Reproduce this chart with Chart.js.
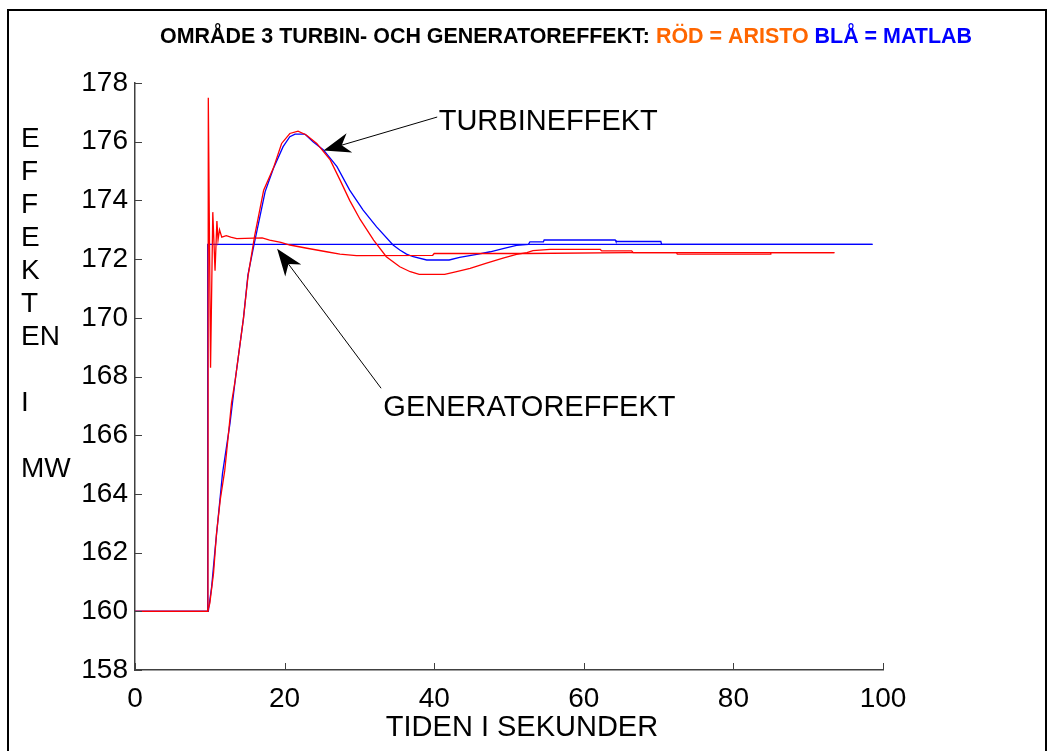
<!DOCTYPE html>
<html>
<head>
<meta charset="utf-8">
<title>Område 3 turbin- och generatoreffekt</title>
<script src="https://cdn.jsdelivr.net/npm/chart.js@4.4.1/dist/chart.umd.min.js"></script>
<style>
  html, body { margin: 0; padding: 0; background: #fff; }
  canvas { display: block; }
</style>
</head>
<body>
<canvas id="chart" width="1050" height="751"></canvas>
<script>
// time (s) and power (MW)
const aristoTurbineT = [0, 9.7, 10, 10.5, 10.9, 11.4, 12, 12.5, 12.9, 13.4, 14.5, 15.1, 16, 17.2, 18.5, 19.6, 20.7, 21.8, 22.9, 24.3, 26.1, 27.4, 28.7, 30.1, 31.9, 33.6, 35.4, 36.8, 38, 41.4, 43, 44.8, 47, 49.2, 51, 52.4, 53.2, 55.5, 62.2, 62.4, 66.4, 66.6, 72.4, 72.5, 84.9, 85, 93.5];
const aristoTurbineMW = [160, 160, 160.27, 161.3, 162.66, 163.8, 164.8, 166.06, 167.09, 167.88, 169.98, 171.4, 172.8, 174.35, 175.1, 175.94, 176.28, 176.36, 176.23, 175.94, 175.38, 174.7, 174.0, 173.35, 172.65, 172.08, 171.74, 171.57, 171.48, 171.48, 171.57, 171.68, 171.86, 172.03, 172.16, 172.22, 172.29, 172.33, 172.33, 172.28, 172.28, 172.22, 172.22, 172.17, 172.17, 172.22, 172.22];

const aristoGeneratorT = [0, 9.75, 9.8, 10.1, 10.4, 10.7, 10.95, 11.1, 11.3, 11.6, 12.2, 12.8, 13.6, 17, 18, 19.5, 20.7, 23, 25.6, 27.4, 29.6, 39.8, 40, 52.4, 66, 93.5];
const aristoGeneratorMW = [160, 160, 177.5, 168.3, 173.6, 171.6, 173.3, 172.65, 173.0, 172.75, 172.8, 172.75, 172.7, 172.72, 172.65, 172.57, 172.48, 172.37, 172.25, 172.17, 172.12, 172.13, 172.19, 172.19, 172.22, 172.22];

const matlabTurbineT = [0, 9.8, 10.25, 10.7, 11.7, 12.7, 13.4, 14.5, 15.1, 15.9, 17.4, 18.5, 19.8, 20.7, 21.4, 22.7, 23.8, 25.2, 27, 28.7, 30.5, 32.3, 34.5, 35.4, 36.3, 37.2, 39, 42, 43.4, 45.7, 47.5, 49.2, 51, 52.6, 52.8, 54.6, 54.7, 64.2, 64.3, 70.3, 70.4, 98.6];
const matlabTurbineMW = [160, 160, 160.84, 162.1, 164.7, 166.4, 167.88, 169.98, 171.46, 172.48, 174.3, 175.09, 175.83, 176.17, 176.26, 176.26, 176.0, 175.72, 175.15, 174.35, 173.67, 173.1, 172.48, 172.31, 172.17, 172.08, 171.97, 171.97, 172.06, 172.16, 172.25, 172.36, 172.47, 172.5, 172.59, 172.59, 172.65, 172.65, 172.6, 172.6, 172.5, 172.5];

const matlabGeneratorT = [0, 9.7, 9.72, 98.6];
const matlabGeneratorMW = [160, 160, 172.5, 172.5];

const xTicks = [0, 20, 40, 60, 80, 100];
const yTicks = [158, 160, 162, 164, 166, 168, 170, 172, 174, 176, 178];

const xTitle = 'TIDEN I SEKUNDER';
const yTitleLines = ['E', 'F', 'F', 'E', 'K', 'T', 'EN', '', 'I', '', 'MW'];
const titleParts = [
  { text: 'OMRÅDE 3 TURBIN- OCH GENERATOREFFEKT: ', color: '#000000' },
  { text: 'RÖD = ARISTO', color: '#ff6600' },
  { text: ' BLÅ = MATLAB', color: '#0000ff' }
];

// arrows with their labels, in data units (seconds, MW)
const notes = [
  { text: 'TURBINEFFEKT', at: [40.6, 176.67], tail: [40.4, 176.84], tip: [25.2, 175.7] },
  { text: 'GENERATOREFFEKT', at: [33.2, 166.93], tail: [32.9, 167.6], tip: [19.0, 172.35] }
];

const toPoints = (ts, vs) => ts.map((t, i) => ({ x: t, y: vs[i] }));

const FONT = '"Liberation Sans", Arial, sans-serif';
const AXIS_COLOR = '#404040';

const decorations = {
  id: 'decorations',
  beforeDraw(chart) {
    const ctx = chart.ctx;
    ctx.save();
    ctx.fillStyle = '#fff';
    ctx.fillRect(0, 0, chart.width, chart.height);
    ctx.strokeStyle = '#000';
    ctx.lineWidth = 2;
    ctx.strokeRect(8, 10, 1038, 760);
    ctx.restore();
  },
  afterDraw(chart) {
    const ctx = chart.ctx;
    const x = chart.scales.x;
    const y = chart.scales.y;
    const area = chart.chartArea;

    ctx.save();

    // ticks pointing into the plot
    ctx.strokeStyle = AXIS_COLOR;
    ctx.lineWidth = 1;
    ctx.beginPath();
    xTicks.forEach(v => {
      const px = Math.round(x.getPixelForValue(v)) + 0.5;
      ctx.moveTo(px, area.bottom);
      ctx.lineTo(px, area.bottom - 7);
    });
    yTicks.forEach(v => {
      const py = Math.round(y.getPixelForValue(v)) + 0.5;
      ctx.moveTo(area.left, py);
      ctx.lineTo(area.left + 7, py);
    });
    ctx.stroke();

    // title, squeezed like the narrow bold original
    ctx.font = 'bold 22px ' + FONT;
    ctx.textBaseline = 'middle';
    ctx.textAlign = 'left';
    const total = titleParts.reduce((w, p) => w + ctx.measureText(p.text).width, 0);
    ctx.save();
    ctx.translate(160, 37);
    ctx.scale(812 / total, 1);
    let cx = 0;
    titleParts.forEach(p => {
      ctx.fillStyle = p.color;
      ctx.fillText(p.text, cx, 0);
      cx += ctx.measureText(p.text).width;
    });
    ctx.restore();

    // stacked y axis title
    ctx.font = '28px ' + FONT;
    ctx.fillStyle = '#000';
    yTitleLines.forEach((line, i) => {
      ctx.fillText(line, 21, 139 + i * 33);
    });

    // x axis title
    ctx.font = '29px ' + FONT;
    ctx.textAlign = 'center';
    ctx.fillText(xTitle, 522, 728);
    ctx.textAlign = 'left';

    // arrows and their labels
    notes.forEach(n => {
      const tipX = x.getPixelForValue(n.tip[0]);
      const tipY = y.getPixelForValue(n.tip[1]);
      const tailX = x.getPixelForValue(n.tail[0]);
      const tailY = y.getPixelForValue(n.tail[1]);
      const len = Math.hypot(tailX - tipX, tailY - tipY);
      const ux = (tailX - tipX) / len;
      const uy = (tailY - tipY) / len;
      const nx = -uy, ny = ux;
      const L = 27, W = 10, notch = 19;

      ctx.strokeStyle = '#000';
      ctx.lineWidth = 1;
      ctx.beginPath();
      ctx.moveTo(tipX + ux * notch, tipY + uy * notch);
      ctx.lineTo(tailX, tailY);
      ctx.stroke();

      ctx.fillStyle = '#000';
      ctx.beginPath();
      ctx.moveTo(tipX, tipY);
      ctx.lineTo(tipX + ux * L + nx * W, tipY + uy * L + ny * W);
      ctx.lineTo(tipX + ux * notch, tipY + uy * notch);
      ctx.lineTo(tipX + ux * L - nx * W, tipY + uy * L - ny * W);
      ctx.closePath();
      ctx.fill();

      ctx.fillText(n.text, x.getPixelForValue(n.at[0]), y.getPixelForValue(n.at[1]));
    });

    ctx.restore();
  }
};

new Chart(document.getElementById('chart'), {
  type: 'line',
  data: {
    datasets: [
      { label: 'ARISTO turbin', data: toPoints(aristoTurbineT, aristoTurbineMW), borderColor: '#ff0000', order: 0 },
      { label: 'ARISTO generator', data: toPoints(aristoGeneratorT, aristoGeneratorMW), borderColor: '#ff0000', order: 0 },
      { label: 'MATLAB turbin', data: toPoints(matlabTurbineT, matlabTurbineMW), borderColor: '#0000ff', order: 1 },
      { label: 'MATLAB generator', data: toPoints(matlabGeneratorT, matlabGeneratorMW), borderColor: '#0000ff', order: 1 }
    ]
  },
  options: {
    responsive: false,
    animation: false,
    events: [],
    elements: {
      line: { borderWidth: 1.3, tension: 0, fill: false },
      point: { radius: 0 }
    },
    layout: { padding: { top: 83, right: 167, left: 0, bottom: 0 } },
    plugins: {
      legend: { display: false },
      tooltip: { enabled: false },
      title: { display: false }
    },
    scales: {
      x: {
        type: 'linear',
        min: 0,
        max: 100,
        afterBuildTicks: s => { s.ticks = xTicks.map(v => ({ value: v })); },
        afterFit: s => { s.height = 81; },
        grid: { display: false, drawTicks: false },
        border: { display: true, color: AXIS_COLOR, width: 1.5 },
        ticks: { color: '#000', padding: 12, maxRotation: 0, font: { family: FONT, size: 28 } }
      },
      y: {
        type: 'linear',
        min: 158,
        max: 178,
        afterBuildTicks: s => { s.ticks = yTicks.map(v => ({ value: v })); },
        afterFit: s => { s.width = 135; },
        grid: { display: false, drawTicks: false },
        border: { display: true, color: AXIS_COLOR, width: 1.5 },
        ticks: { color: '#000', padding: 7, font: { family: FONT, size: 28 } }
      }
    }
  },
  plugins: [decorations]
});
</script>
</body>
</html>
